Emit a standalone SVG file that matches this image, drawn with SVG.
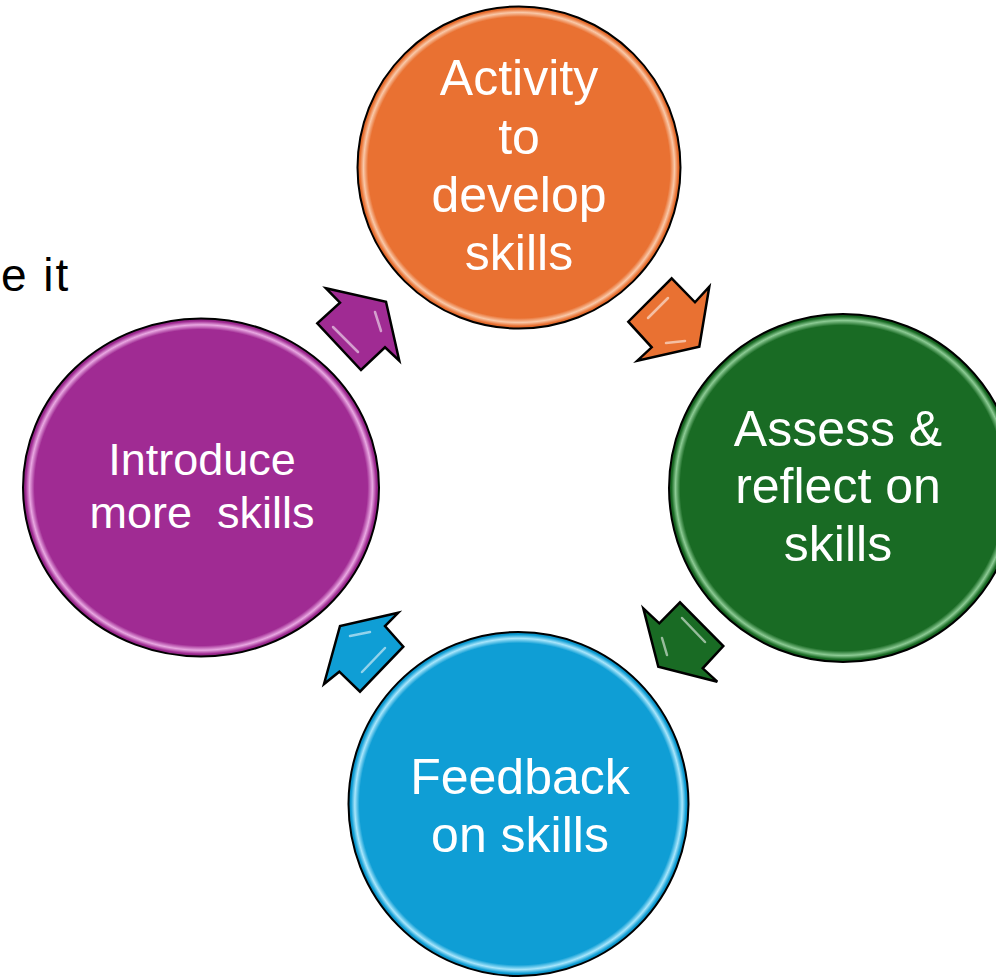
<svg xmlns="http://www.w3.org/2000/svg" width="996" height="980" viewBox="0 0 996 980">
<style>
.lbl{font-family:"Liberation Sans","Noto Sans",sans-serif;fill:#ffffff;text-anchor:middle;font-size:50px}
.small{font-size:45px;white-space:pre}
.disc{stroke:#000;stroke-width:2}
.arr{stroke:#000;stroke-width:2.5;stroke-linejoin:miter}
.hl{stroke:#ffffff;stroke-linecap:round;fill:none;opacity:0.55}
</style>
<defs>
<radialGradient id="gO" cx="0.5" cy="0.5" r="0.5">
<stop offset="0" stop-color="#E97132"/><stop offset="0.935" stop-color="#E97132"/><stop offset="0.963" stop-color="#F9C8A8"/><stop offset="0.985" stop-color="#E97132"/><stop offset="1" stop-color="#C85A22"/>
</radialGradient>
<radialGradient id="gG" cx="0.5" cy="0.5" r="0.5">
<stop offset="0" stop-color="#196B24"/><stop offset="0.935" stop-color="#196B24"/><stop offset="0.963" stop-color="#8CCB94"/><stop offset="0.985" stop-color="#196B24"/><stop offset="1" stop-color="#0F4A17"/>
</radialGradient>
<radialGradient id="gB" cx="0.5" cy="0.5" r="0.5">
<stop offset="0" stop-color="#0F9ED5"/><stop offset="0.935" stop-color="#0F9ED5"/><stop offset="0.963" stop-color="#A8E6FC"/><stop offset="0.985" stop-color="#0F9ED5"/><stop offset="1" stop-color="#0A7BA8"/>
</radialGradient>
<radialGradient id="gP" cx="0.5" cy="0.5" r="0.5">
<stop offset="0" stop-color="#A02B93"/><stop offset="0.935" stop-color="#A02B93"/><stop offset="0.963" stop-color="#E9A8E2"/><stop offset="0.985" stop-color="#A02B93"/><stop offset="1" stop-color="#7A1F70"/>
</radialGradient>
</defs>
<rect width="996" height="980" fill="#ffffff"/>
<text x="1" y="291" font-family="Liberation Sans, Noto Sans, sans-serif" font-size="46" fill="#000" letter-spacing="2">e it</text>

<g id="connectors">
<g id="arrow-purple">
<polygon class="arr" fill="#A02B93" points="326,288.3 386,301.7 399.3,360.7 385,347.3 361,370 317.3,323.3 340,302.7"/>
<path class="hl" stroke-width="2.5" d="M333,327 L358,352 M375,312 L381,331"/>
</g>
<g id="arrow-orange">
<polygon class="arr" fill="#E97132" points="671.7,278.3 695,302.3 709.3,286.7 699.3,346.7 637.3,360.7 651.7,347.3 628.3,321.7"/>
<path class="hl" stroke-width="2.5" d="M648,318 L668,298 M666,343 L685,341"/>
</g>
<g id="arrow-green">
<polygon class="arr" fill="#196B24" points="643.3,608.3 659.3,623.3 680,602.3 723.3,646 702.7,668.3 717.3,681.7 658.3,666.7"/>
<path class="hl" stroke-width="2.5" d="M682,618 L705,642 M662,638 L667,655"/>
</g>
<g id="arrow-blue">
<polygon class="arr" fill="#0F9ED5" points="398.3,612.7 385,626 403.3,646.7 360,691.7 339.3,671.7 324,684 340,626"/>
<path class="hl" stroke-width="2.5" d="M350,636 L370,632 M362,672 L385,648"/>
</g>
</g>

<g id="node-activity">
<ellipse class="disc" cx="519" cy="167.5" rx="161.5" ry="161" fill="url(#gO)"/>
<text class="lbl" x="519" y="95">Activity</text>
<text class="lbl" x="519" y="154">to</text>
<text class="lbl" x="519" y="212">develop</text>
<text class="lbl" x="519" y="270">skills</text>
</g>
<g id="node-assess">
<ellipse class="disc" cx="843" cy="488" rx="174" ry="174" fill="url(#gG)"/>
<text class="lbl" x="838" y="446">Assess &amp;</text>
<text class="lbl" x="838" y="503">reflect on</text>
<text class="lbl" x="838" y="561">skills</text>
</g>
<g id="node-feedback">
<ellipse class="disc" cx="518.5" cy="804" rx="170" ry="172" fill="url(#gB)"/>
<text class="lbl" x="520" y="794">Feedback</text>
<text class="lbl" x="520" y="852">on skills</text>
</g>
<g id="node-introduce">
<ellipse class="disc" cx="201" cy="487.5" rx="178" ry="169" fill="url(#gP)"/>
<text class="lbl small" x="202" y="475">Introduce</text>
<text class="lbl small" x="202" y="528">more  skills</text>
</g>
</svg>
